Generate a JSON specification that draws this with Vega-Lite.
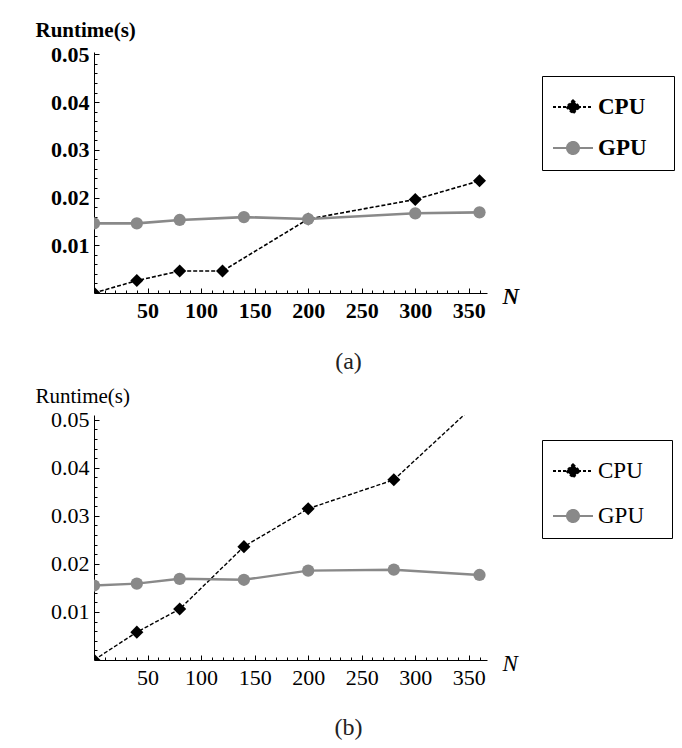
{
  "$schema": "https://vega.github.io/schema/vega-lite/v6.json",
  "background": "white",
  "padding": {"left": 35, "top": 19, "right": 5, "bottom": 5},
  "spacing": 11,
  "resolve": {
    "scale": {"fill": "independent", "stroke": "independent", "shape": "independent", "strokeDash": "independent"},
    "legend": {"fill": "independent", "stroke": "independent", "shape": "independent", "strokeDash": "independent"}
  },
  "datasets": {
    "a": [
      {"N": 0, "runtime": 0.0, "device": "CPU"},
      {"N": 40, "runtime": 0.0026, "device": "CPU"},
      {"N": 80, "runtime": 0.0046, "device": "CPU"},
      {"N": 120, "runtime": 0.0046, "device": "CPU"},
      {"N": 200, "runtime": 0.0155, "device": "CPU"},
      {"N": 300, "runtime": 0.0196, "device": "CPU"},
      {"N": 360, "runtime": 0.0235, "device": "CPU"},
      {"N": 0, "runtime": 0.0146, "device": "GPU"},
      {"N": 40, "runtime": 0.0146, "device": "GPU"},
      {"N": 80, "runtime": 0.0153, "device": "GPU"},
      {"N": 140, "runtime": 0.0159, "device": "GPU"},
      {"N": 200, "runtime": 0.0155, "device": "GPU"},
      {"N": 300, "runtime": 0.0167, "device": "GPU"},
      {"N": 360, "runtime": 0.0169, "device": "GPU"}
    ],
    "b": [
      {"N": 0, "runtime": 0.0, "device": "CPU"},
      {"N": 40, "runtime": 0.0058, "device": "CPU"},
      {"N": 80, "runtime": 0.0106, "device": "CPU"},
      {"N": 140, "runtime": 0.0236, "device": "CPU"},
      {"N": 200, "runtime": 0.0315, "device": "CPU"},
      {"N": 280, "runtime": 0.0375, "device": "CPU"},
      {"N": 360, "runtime": 0.054, "device": "CPU"},
      {"N": 0, "runtime": 0.0155, "device": "GPU"},
      {"N": 40, "runtime": 0.0159, "device": "GPU"},
      {"N": 80, "runtime": 0.0169, "device": "GPU"},
      {"N": 140, "runtime": 0.0167, "device": "GPU"},
      {"N": 200, "runtime": 0.0186, "device": "GPU"},
      {"N": 280, "runtime": 0.0188, "device": "GPU"},
      {"N": 360, "runtime": 0.0177, "device": "GPU"}
    ]
  },
  "config": {
    "font": "Liberation Serif",
    "view": {"stroke": null},
    "axis": {"domainColor": "black", "domainWidth": 1, "tickColor": "black", "tickWidth": 1, "labelColor": "black", "titleColor": "black", "grid": false, "labelFont": "Liberation Serif", "titleFont": "Liberation Serif", "labelFlush": false, "labelOverlap": false},
    "legend": {"labelFont": "Liberation Serif", "labelColor": "black"},
    "title": {"font": "Liberation Serif", "color": "#222222"}
  },
  "vconcat": [
    {
      "width": 393,
      "height": 241,
      "data": {"name": "a"},
      "title": {"text": "(a)", "orient": "bottom", "anchor": "middle", "frame": "group", "dx": 58, "offset": 29, "fontSize": 24, "fontWeight": "normal"},
      "resolve": {"axis": {"x": "independent", "y": "independent"}},
      "layer": [
        {
          "transform": [{"filter": "datum.device === 'CPU'"}],
          "mark": {"type": "line", "color": "black", "strokeWidth": 1.6, "strokeDash": [4, 2], "clip": true},
          "encoding": {
            "x": {"field": "N", "type": "quantitative", "scale": {"domain": [0, 367], "nice": false, "zero": false},
              "axis": {"orient": "bottom", "values": [50, 100, 150, 200, 250, 300, 350], "tickSize": -5, "labelPadding": 12, "labelFontSize": 22, "labelFontWeight": "bold",
                "title": "N", "titleFontSize": 23, "titleFontStyle": "italic", "titleFontWeight": "bold", "titleAngle": 0, "titleX": 408, "titleY": 10, "titleAlign": "left", "titleBaseline": "alphabetic"}},
            "y": {"field": "runtime", "type": "quantitative", "scale": {"domain": [0, 0.0505], "nice": false, "zero": false},
              "axis": {"orient": "left", "values": [0.01, 0.02, 0.03, 0.04, 0.05], "format": ".2f", "tickSize": -5, "labelPadding": 10, "labelFontSize": 22, "labelFontWeight": "bold",
                "title": "Runtime(s)", "titleFontSize": 21, "titleFontWeight": "bold", "titleAngle": 0, "titleX": -59, "titleY": -16, "titleAlign": "left", "titleBaseline": "alphabetic"}}
          }
        },
        {
          "transform": [{"filter": "datum.device === 'CPU'"}],
          "mark": {"type": "point", "shape": "diamond", "filled": true, "color": "black", "size": 170, "opacity": 1, "clip": true},
          "encoding": {
            "x": {"field": "N", "type": "quantitative",
              "axis": {"orient": "bottom", "values": [10, 20, 30, 40, 50, 60, 70, 80, 90, 100, 110, 120, 130, 140, 150, 160, 170, 180, 190, 200, 210, 220, 230, 240, 250, 260, 270, 280, 290, 300, 310, 320, 330, 340, 350, 360], "tickSize": -3, "labels": false, "domain": false, "title": null}},
            "y": {"field": "runtime", "type": "quantitative",
              "axis": {"orient": "left", "values": [0.002, 0.004, 0.006, 0.008, 0.01, 0.012, 0.014, 0.016, 0.018, 0.02, 0.022, 0.024, 0.026, 0.028, 0.03, 0.032, 0.034, 0.036, 0.038, 0.04, 0.042, 0.044, 0.046, 0.048, 0.05], "tickSize": -3, "labels": false, "domain": false, "title": null}}
          }
        },
        {
          "transform": [{"filter": "datum.device === 'GPU'"}],
          "mark": {"type": "line", "color": "#898989", "strokeWidth": 2.6, "clip": true},
          "encoding": {
            "x": {"field": "N", "type": "quantitative", "axis": null},
            "y": {"field": "runtime", "type": "quantitative", "axis": null}
          }
        },
        {
          "transform": [{"filter": "datum.device === 'GPU'"}],
          "mark": {"type": "point", "shape": "circle", "filled": true, "color": "#898989", "size": 150, "opacity": 1, "clip": true},
          "encoding": {
            "x": {"field": "N", "type": "quantitative", "axis": null},
            "y": {"field": "runtime", "type": "quantitative", "axis": null}
          }
        },
        {
          "data": {"values": []},
          "mark": {"type": "point", "filled": true, "opacity": 1},
          "encoding": {
            "fill": {"field": "device", "type": "nominal", "scale": {"domain": ["CPU", "GPU"], "range": ["black", "#898989"]}},
            "stroke": {"field": "device", "type": "nominal", "scale": {"domain": ["CPU", "GPU"], "range": ["black", "#898989"]}},
            "strokeDash": {"field": "device", "type": "nominal", "scale": {"domain": ["CPU", "GPU"], "range": [[3, 2], [1, 0]]}},
            "shape": {"field": "device", "type": "nominal",
              "scale": {"domain": ["CPU", "GPU"], "range": ["M-1,0H1M0,-0.33L0.33,0L0,0.33L-0.33,0Z", "M-1,0H1M0.3,0A0.3,0.3,0,1,1,-0.3,0A0.3,0.3,0,1,1,0.3,0Z"]},
              "legend": {"orient": "none", "legendX": 448, "legendY": 24, "title": null, "strokeColor": "black", "fillColor": "white", "padding": 10, "symbolSize": 1600, "symbolStrokeWidth": 2, "labelFontSize": 23, "labelFontWeight": "bold", "labelOffset": 4, "rowPadding": 8, "labelExpr": "datum.label + '\u00a0\u00a0\u00a0\u200b'"}}
          }
        }
      ]
    },
    {
      "width": 393,
      "height": 245,
      "data": {"name": "b"},
      "title": {"text": "(b)", "orient": "bottom", "anchor": "middle", "frame": "group", "dx": 58, "offset": 28, "fontSize": 24, "fontWeight": "normal"},
      "resolve": {"axis": {"x": "independent", "y": "independent"}},
      "layer": [
        {
          "transform": [{"filter": "datum.device === 'CPU'"}],
          "mark": {"type": "line", "color": "black", "strokeWidth": 1.4, "strokeDash": [4, 2], "clip": true},
          "encoding": {
            "x": {"field": "N", "type": "quantitative", "scale": {"domain": [0, 367], "nice": false, "zero": false},
              "axis": {"orient": "bottom", "values": [50, 100, 150, 200, 250, 300, 350], "tickSize": -5, "labelPadding": 12, "labelFontSize": 22, "labelFontWeight": "normal",
                "title": "N", "titleFontSize": 23, "titleFontStyle": "italic", "titleFontWeight": "normal", "titleAngle": 0, "titleX": 408, "titleY": 10, "titleAlign": "left", "titleBaseline": "alphabetic"}},
            "y": {"field": "runtime", "type": "quantitative", "scale": {"domain": [0, 0.051], "nice": false, "zero": false},
              "axis": {"orient": "left", "values": [0.01, 0.02, 0.03, 0.04, 0.05], "format": ".2f", "tickSize": -5, "labelPadding": 10, "labelFontSize": 22, "labelFontWeight": "normal",
                "title": "Runtime(s)", "titleFontSize": 21, "titleFontWeight": "normal", "titleAngle": 0, "titleX": -59, "titleY": -13, "titleAlign": "left", "titleBaseline": "alphabetic"}}
          }
        },
        {
          "transform": [{"filter": "datum.device === 'CPU'"}],
          "mark": {"type": "point", "shape": "diamond", "filled": true, "color": "black", "size": 170, "opacity": 1, "clip": true},
          "encoding": {
            "x": {"field": "N", "type": "quantitative",
              "axis": {"orient": "bottom", "values": [10, 20, 30, 40, 50, 60, 70, 80, 90, 100, 110, 120, 130, 140, 150, 160, 170, 180, 190, 200, 210, 220, 230, 240, 250, 260, 270, 280, 290, 300, 310, 320, 330, 340, 350, 360], "tickSize": -3, "labels": false, "domain": false, "title": null}},
            "y": {"field": "runtime", "type": "quantitative",
              "axis": {"orient": "left", "values": [0.002, 0.004, 0.006, 0.008, 0.01, 0.012, 0.014, 0.016, 0.018, 0.02, 0.022, 0.024, 0.026, 0.028, 0.03, 0.032, 0.034, 0.036, 0.038, 0.04, 0.042, 0.044, 0.046, 0.048, 0.05], "tickSize": -3, "labels": false, "domain": false, "title": null}}
          }
        },
        {
          "transform": [{"filter": "datum.device === 'GPU'"}],
          "mark": {"type": "line", "color": "#898989", "strokeWidth": 2.4, "clip": true},
          "encoding": {
            "x": {"field": "N", "type": "quantitative", "axis": null},
            "y": {"field": "runtime", "type": "quantitative", "axis": null}
          }
        },
        {
          "transform": [{"filter": "datum.device === 'GPU'"}],
          "mark": {"type": "point", "shape": "circle", "filled": true, "color": "#898989", "size": 150, "opacity": 1, "clip": true},
          "encoding": {
            "x": {"field": "N", "type": "quantitative", "axis": null},
            "y": {"field": "runtime", "type": "quantitative", "axis": null}
          }
        },
        {
          "data": {"values": []},
          "mark": {"type": "point", "filled": true, "opacity": 1},
          "encoding": {
            "fill": {"field": "device", "type": "nominal", "scale": {"domain": ["CPU", "GPU"], "range": ["black", "#898989"]}},
            "stroke": {"field": "device", "type": "nominal", "scale": {"domain": ["CPU", "GPU"], "range": ["black", "#898989"]}},
            "strokeDash": {"field": "device", "type": "nominal", "scale": {"domain": ["CPU", "GPU"], "range": [[3, 2], [1, 0]]}},
            "shape": {"field": "device", "type": "nominal",
              "scale": {"domain": ["CPU", "GPU"], "range": ["M-1,0H1M0,-0.33L0.33,0L0,0.33L-0.33,0Z", "M-1,0H1M0.3,0A0.3,0.3,0,1,1,-0.3,0A0.3,0.3,0,1,1,0.3,0Z"]},
              "legend": {"orient": "none", "legendX": 448, "legendY": 25, "title": null, "strokeColor": "black", "fillColor": "white", "padding": 10, "symbolSize": 1600, "symbolStrokeWidth": 2, "labelFontSize": 23, "labelFontWeight": "normal", "labelOffset": 4, "rowPadding": 12, "labelExpr": "datum.label + '\u00a0\u00a0\u00a0\u200b'"}}
          }
        }
      ]
    }
  ]
}
